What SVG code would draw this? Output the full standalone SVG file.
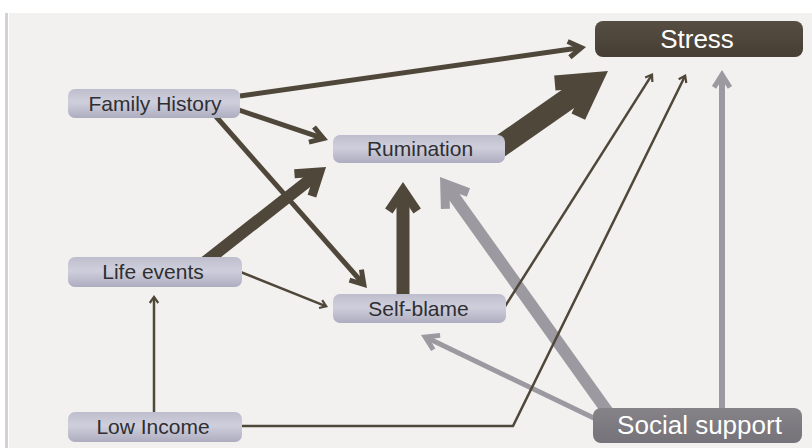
<svg xmlns="http://www.w3.org/2000/svg" width="812" height="448" viewBox="0 0 812 448">
  <defs>
    <style>
      .dk { fill: none; stroke: #4f4739; }
      .gr { fill: none; stroke: #9c99a1; }
      .node rect { fill: url(#lav); }
      .node text { font-family: "Liberation Sans", Arial, sans-serif; font-size: 21px; fill: #2f2f33; text-anchor: middle; }
      .big text { font-family: "Liberation Sans", Arial, sans-serif; font-size: 26px; fill: #ffffff; text-anchor: middle; }
    </style>
    <linearGradient id="lav" x1="0" y1="0" x2="0" y2="1">
      <stop offset="0" stop-color="#bdbdcd"/>
      <stop offset="0.45" stop-color="#cfcfdc"/>
      <stop offset="1" stop-color="#adadc0"/>
    </linearGradient>
    <linearGradient id="brown" x1="0" y1="0" x2="0" y2="1">
      <stop offset="0" stop-color="#564e42"/>
      <stop offset="1" stop-color="#463e33"/>
    </linearGradient>
    <linearGradient id="grey" x1="0" y1="0" x2="0" y2="1">
      <stop offset="0" stop-color="#858288"/>
      <stop offset="1" stop-color="#757279"/>
    </linearGradient>
    <marker id="h1d" markerUnits="userSpaceOnUse" orient="auto" refX="0" refY="0" markerWidth="20" markerHeight="20" overflow="visible">
      <polygon points="2.5,0 -4.87,-5.16 -6.13,-3.36 -1.33,0 -6.13,3.36 -4.87,5.16" fill="#4f4739"/>
    </marker>
    <marker id="h2d" markerUnits="userSpaceOnUse" orient="auto" refX="0" refY="0" markerWidth="30" markerHeight="30" overflow="visible">
      <polygon points="6,0 -10.11,-10.07 -12.76,-5.83 -3.43,0 -12.76,5.83 -10.11,10.07" fill="#4f4739"/>
    </marker>
    <marker id="h3d" markerUnits="userSpaceOnUse" orient="auto" refX="0" refY="0" markerWidth="50" markerHeight="50" overflow="visible">
      <polygon points="12,0 -14.53,-17.89 -19.56,-10.43 -4.1,0 -19.56,10.43 -14.53,17.89" fill="#4f4739"/>
    </marker>
    <marker id="h4d" markerUnits="userSpaceOnUse" orient="auto" refX="0" refY="0" markerWidth="80" markerHeight="80" overflow="visible">
      <polygon points="24,0 -22.77,-27 -30.27,-14.01 -6,0 -30.27,14.01 -22.77,27" fill="#4f4739"/>
    </marker>
    <marker id="h2g" markerUnits="userSpaceOnUse" orient="auto" refX="0" refY="0" markerWidth="30" markerHeight="30" overflow="visible">
      <polygon points="6,0 -10.11,-10.07 -12.76,-5.83 -3.43,0 -12.76,5.83 -10.11,10.07" fill="#9c99a1"/>
    </marker>
    <marker id="h3g" markerUnits="userSpaceOnUse" orient="auto" refX="0" refY="0" markerWidth="50" markerHeight="50" overflow="visible">
      <polygon points="12,0 -14.53,-17.89 -19.56,-10.43 -4.1,0 -19.56,10.43 -14.53,17.89" fill="#9c99a1"/>
    </marker>
  </defs>

  <rect x="0" y="0" width="812" height="448" fill="#ffffff"/>
  <rect x="9" y="13" width="803" height="435" fill="#f3f1f0"/>
  <rect x="5" y="13" width="3" height="435" fill="#d4d0d5"/>

  <g id="connectors">
    <path class="gr" stroke-width="12" d="M610,415 L447,186.8" marker-end="url(#h3g)"/>
    <path class="gr" stroke-width="5" d="M600,421 L426.4,337.6" marker-end="url(#h2g)"/>
    <path class="gr" stroke-width="6" d="M722,412 L722,76" marker-end="url(#h2g)"/>
    <path class="dk" stroke-width="5" d="M240,96 L580.1,47.8" marker-end="url(#h2d)"/>
    <path class="dk" stroke-width="5" d="M236,109 L322.3,138.2" marker-end="url(#h2d)"/>
    <path class="dk" stroke-width="5" d="M212,112 L363,283.5" marker-end="url(#h2d)"/>
    <path class="dk" stroke-width="12" d="M205,262 L316.6,174.4" marker-end="url(#h3d)"/>
    <path class="dk" stroke-width="2.5" d="M238,271 L325.7,306.1" marker-end="url(#h1d)"/>
    <path class="dk" stroke-width="2.5" d="M154,415 L154,297.5" marker-end="url(#h1d)"/>
    <path class="dk" stroke-width="13" d="M403,298 L403,194" marker-end="url(#h3d)"/>
    <path class="dk" stroke-width="22" d="M492,152 L588.3,84.7" marker-end="url(#h4d)"/>
    <path class="dk" stroke-width="2.5" d="M504,308 L651.7,75.1" marker-end="url(#h1d)"/>
    <path class="dk" stroke-width="2.5" d="M238,426 L513,426 L684.9,76.2" marker-end="url(#h1d)"/>
  </g>

  <g id="stress" class="big">
    <rect x="595" y="21" width="208" height="36" rx="8" fill="url(#brown)"/>
    <text x="697" y="48">Stress</text>
  </g>
  <g id="family-history" class="node">
    <rect x="68" y="89" width="172" height="29" rx="7"/>
    <text x="155" y="111">Family History</text>
  </g>
  <g id="rumination" class="node">
    <rect x="333" y="135" width="172" height="28" rx="7"/>
    <text x="420" y="156">Rumination</text>
  </g>
  <g id="life-events" class="node">
    <rect x="68" y="257" width="174" height="30" rx="7"/>
    <text x="153" y="279">Life events</text>
  </g>
  <g id="self-blame" class="node">
    <rect x="333" y="294" width="173" height="29" rx="7"/>
    <text x="418.5" y="316">Self-blame</text>
  </g>
  <g id="low-income" class="node">
    <rect x="68" y="412" width="174" height="30" rx="7"/>
    <text x="153" y="434">Low Income</text>
  </g>
  <g id="social-support" class="big">
    <rect x="593" y="408" width="209" height="35" rx="8" fill="url(#grey)"/>
    <text x="699.5" y="434">Social support</text>
  </g>
</svg>
